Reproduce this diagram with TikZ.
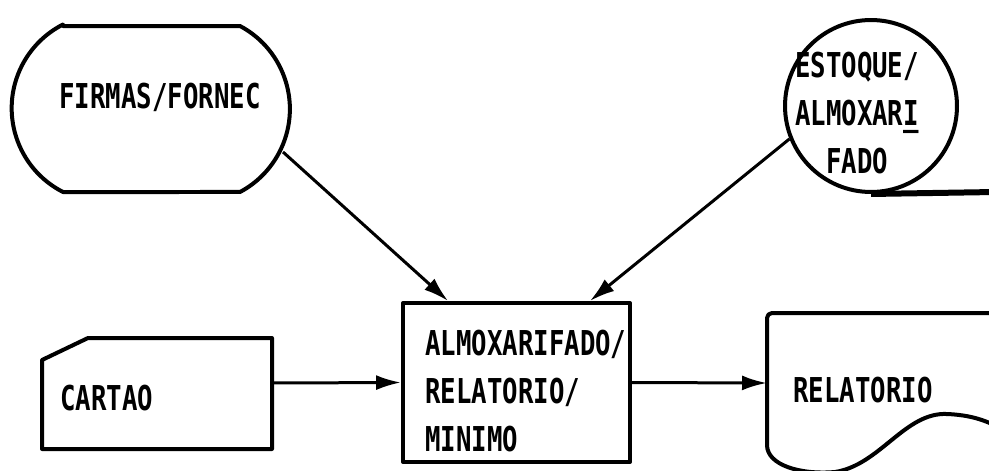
\documentclass[tikz,border=0pt]{standalone}
\usepackage{fontspec}
\usetikzlibrary{arrows.meta}
\newfontfamily\printfont[FakeStretch=0.75]{DejaVu Sans Mono}
\newcommand{\chartfont}{\printfont\bfseries\fontsize{19.5}{27.2}\selectfont}

\begin{document}
\begin{tikzpicture}[x=0.02cm, y=-0.02cm,
  outline/.style={black, line width=0.08cm, line join=round},
  flow/.style={black, line width=0.06cm, -{Latex[length=0.5cm,width=0.3cm]}},
  label/.style={font=\chartfont, inner sep=0pt},
  procbox/.style={outline, draw, minimum width=4.54cm, minimum height=3.18cm, inner sep=0pt},
  storecircle/.style={outline, draw, circle, minimum size=3.44cm, inner sep=0pt}]
\useasboundingbox (0,0) rectangle (989,470);
\clip (0,0) rectangle (989,470);

% terminal
\draw[outline] (63,26) -- (240,26) arc[start angle=-62, end angle=62, radius=94]
  -- (63,192) arc[start angle=117, end angle=243, radius=94] -- cycle;
\node[label, anchor=base] (firmas) at (160,108) {FIRMAS/FORNEC};
\coordinate (firmasSE) at (283,152);

% tape store
\node[storecircle] (store) at (871,106) {};
\coordinate (tapeEnd) at (995,192);
\draw[outline, line width=0.12cm] (store.south) -- (tapeEnd);
\node[label, align=center] (estoque) at (857,113)
  {\fontsize{19.5}{28.3}\selectfont ESTOQUE/\\ALMOXAR\rlap{\_}I\\FADO};

% card
\draw[outline] (42,360) -- (88,338) -- (272,338) -- (272,449) -- (42,449) -- cycle;
\node[label, anchor=base west] (cartao) at (60,410) {CARTAO};
\coordinate (cartaoE) at (272,383);

% process
\node[procbox] (proc) at (516.5,382.5) {};
\node[label, align=left, anchor=north west] (proctext) at (425,330)
  {ALMOXARIFADO/\\RELATORIO/\\MINIMO};

% document
\draw[outline, rounded corners=0.1cm] (1000,313) -- (767,313) -- (767,440) [sharp corners]
  .. controls (767,465) and (800,475) .. (835,472)
  .. controls (880,465) and (905,412) .. (947,414)
  .. controls (970,415) and (985,420) .. (1000,428);
\node[label, anchor=base] (relatorio) at (863,402) {RELATORIO};
\coordinate (relatorioW) at (767,383);

% flows
\draw[flow] (firmasSE) -- (proc.130);
\draw[flow] (store.202) -- (proc.48);
\draw[flow] (cartaoE) -- (proc.west);
\draw[flow] (proc.east) -- (relatorioW);

\end{tikzpicture}
\end{document}
